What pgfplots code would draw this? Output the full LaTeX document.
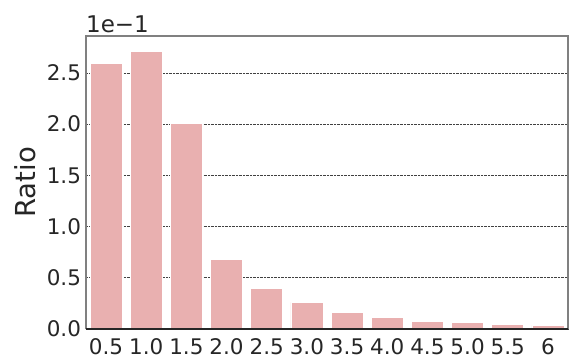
\documentclass[border=0pt]{standalone}
\usepackage{pgfplots}
\pgfplotsset{compat=1.18}
\usepackage{fontspec}
\setmainfont{DejaVu Sans}
\definecolor{barpink}{RGB}{233,176,176}
\definecolor{txt}{RGB}{38,38,38}
\begin{document}
\begin{tikzpicture}
\begin{axis}[
  name=ax,
  scale only axis,
  width=482pt, height=293pt,
  xmin=-0.5, xmax=11.5,
  ymin=0, ymax=2.86,
  xtick={0,...,11},
  xticklabels={0.5,1.0,1.5,2.0,2.5,3.0,3.5,4.0,4.5,5.0,5.5,6},
  ytick={0,0.5,1.0,1.5,2.0,2.5},
  yticklabel style={/pgf/number format/fixed,/pgf/number format/fixed zerofill,/pgf/number format/precision=1, xshift=-1.5pt},
  /pgf/number format/assume math mode=true,
  tick style={draw=none},
  ticklabel style={font=\fontsize{21.5}{25}\selectfont, text=txt},
  ymajorgrids,
  grid style={densely dotted, black!75, line width=0.6pt},
  axis line style={draw=none},
  ylabel={Ratio},
  ylabel style={at={(axis description cs:0,0.5)}, anchor=center, rotate=0, yshift=61pt, font=\fontsize{27.5}{32}\selectfont, text=txt},
  xticklabel style={yshift=-6.5pt},
  clip=false,
]
\addplot[ybar, bar width=32pt, fill=barpink, draw=white, line width=0.6pt]
  coordinates {(0,2.595) (1,2.71) (2,2.01) (3,0.68) (4,0.40) (5,0.26) (6,0.16) (7,0.117) (8,0.072) (9,0.062) (10,0.042) (11,0.035)};
\draw[gray, line width=1.2pt] (rel axis cs:0,0) -- (rel axis cs:0,1) -- (rel axis cs:1,1) -- (rel axis cs:1,0);
\draw[black!85, line width=1.2pt] (rel axis cs:0,0) -- (rel axis cs:1,0);
\node[anchor=base west, inner sep=0pt, font=\fontsize{23}{26}\selectfont, text=txt] at ([yshift=3pt]rel axis cs:0,1) {1e−1};
\end{axis}
\pgfresetboundingbox
\path ([shift={(-86pt,-35pt)}]ax.south west) rectangle ([shift={(13pt,36pt)}]ax.north east);
\end{tikzpicture}
\end{document}
